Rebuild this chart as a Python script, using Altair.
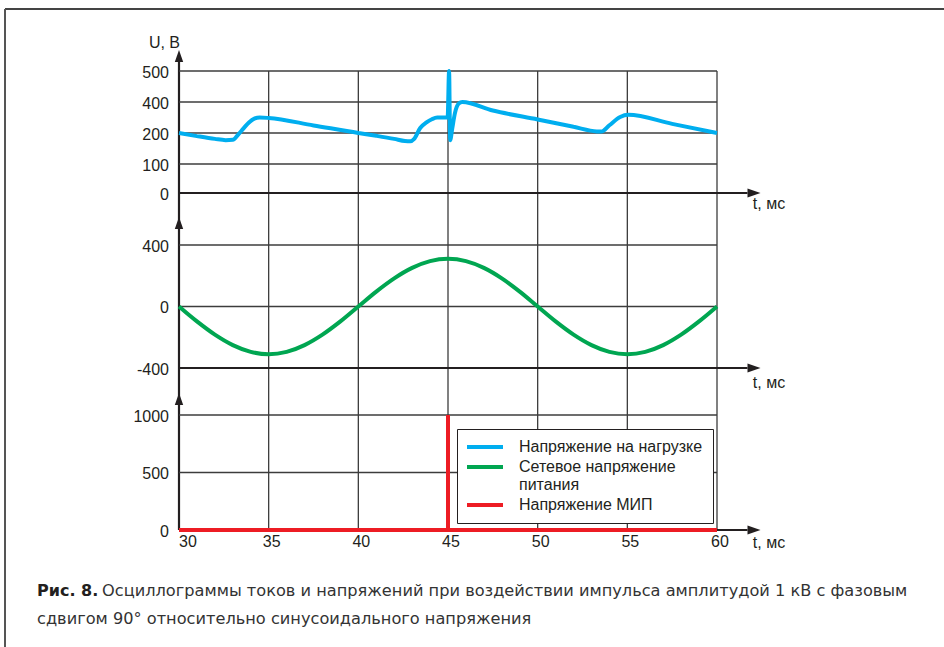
import altair as alt
import pandas as pd

# ---- time axis, ms ----
t_ticks = [30, 35, 40, 45, 50, 55, 60]

# ---- load voltage, V ----
load_t = [30.0, 31.0, 32.0, 32.6, 33.0, 33.3, 33.6, 33.9, 34.2, 34.5, 35.0, 37.5, 40.0,
          41.0, 42.0, 42.6, 42.9, 43.1, 43.45, 43.8, 44.1, 44.4, 44.98, 45.06, 45.12,
          45.24, 45.39, 45.6, 45.8, 47.5, 50.0, 52.0, 53.3, 53.55, 54.0, 54.6, 55.05,
          57.5, 60.0]
load_u = [200, 190, 181, 177, 178, 195, 230, 268, 293, 300, 297, 249, 200,
          191, 181, 174, 173, 180, 232, 268, 289, 300, 300, 500, 177,
          232, 330, 390, 400, 345, 287, 240, 210, 209, 250, 303, 317,
          259, 200]

# ---- mains voltage, V ----
mains_t = [30, 31, 32, 33, 34, 35, 36, 37, 38, 39, 40, 41, 42, 43, 44, 45,
           46, 47, 48, 49, 50, 51, 52, 53, 54, 55, 56, 57, 58, 59, 60]
mains_u = [0, -97, -183, -251, -295, -310, -295, -251, -183, -97, 0, 97, 183, 251, 295, 310,
           295, 251, 183, 97, 0, -97, -183, -251, -295, -310, -295, -251, -183, -97, 0]

# ---- pulse generator voltage, V ----
pulse_t = [30, 45, 45, 45, 60]
pulse_u = [0, 0, 1000, 0, 0]

# ---- panel tick values ----
top_grid = [100, 200, 400, 500]
top_labels = [0, 100, 200, 400, 500]
mid_grid = [0, 400]
mid_labels = [-400, 0, 400]
bot_grid = [500, 1000]
bot_labels = [0, 500, 1000]

series_names = ["Напряжение на нагрузке", "Сетевое напряжение питания", "Напряжение МИП"]
series_colors = ["#00aeef", "#00a651", "#ed1c24"]

W, H = 538, 459
PAD = {"left": 179, "top": 71, "right": 227, "bottom": 117}
INK = "#231f20"
GRID = "#3c3c3c"
FONT = "Liberation Sans"
CAPTION_FONT = "DejaVu Sans"

xs = alt.Scale(domain=[30, 60], range=[0, W], nice=False, zero=False)
# the three stacked panels, each with its own vertical scale
ys_top = alt.Scale(type="linear", domain=[0, 100, 200, 400, 500],
                   range=[122, 93, 62, 31, 0], nice=False, zero=False)
ys_mid = alt.Scale(domain=[-400, 400], range=[297, 174], nice=False, zero=False)
ys_bot = alt.Scale(domain=[0, 1000], range=[459, 344], nice=False, zero=False)

color_scale = alt.Scale(domain=series_names, range=series_colors)
legend = alt.Legend(
    orient="none", legendX=278, legendY=358, title=None,
    symbolType="M-3,0L3,0", symbolSize=144, symbolStrokeWidth=4,
    symbolOffset=10, labelOffset=26,
    labelFont=FONT, labelFontSize=16, labelColor=INK, labelLimit=400,
    padding=10, rowPadding=4,
    strokeColor=INK, fillColor="white",
    labelExpr="datum.label == 'Сетевое напряжение питания' ? "
              "['Сетевое напряжение', 'питания'] : datum.label",
)
color = alt.Color("series:N", scale=color_scale, legend=legend)

ARROW_UP = "M0,-1L0.35,0L-0.35,0Z"
ARROW_RIGHT = "M1,0L0,-0.35L0,0.35Z"
X_END = 61.7  # where the time axes end, under their arrow heads


def panel(ys, grid_vals, label_vals, axis_val, arrow_val, tlabel_dy, line_df, interp):
    grid = alt.Chart(pd.DataFrame({"v": grid_vals, "a": 30, "b": 60})).mark_rule(
        color=GRID, strokeWidth=1.3
    ).encode(
        x=alt.X("a:Q", scale=xs, axis=None), x2="b:Q",
        y=alt.Y("v:Q", scale=ys, axis=None),
    )
    axis_df = pd.DataFrame({"v": [axis_val], "a": [30], "b": [X_END]})
    axis_line = alt.Chart(axis_df).mark_rule(color=INK, strokeWidth=2.2).encode(
        x=alt.X("a:Q", scale=xs, axis=None), x2="b:Q",
        y=alt.Y("v:Q", scale=ys, axis=None),
    )
    x_arrow = alt.Chart(axis_df).mark_point(
        shape=ARROW_RIGHT, size=676, filled=True, color=INK, opacity=1
    ).encode(
        x=alt.X("b:Q", scale=xs, axis=None),
        y=alt.Y("v:Q", scale=ys, axis=None),
    )
    y_arrow = alt.Chart(pd.DataFrame({"t": [30], "v": [arrow_val]})).mark_point(
        shape=ARROW_UP, size=576, filled=True, color=INK, opacity=1
    ).encode(
        x=alt.X("t:Q", scale=xs, axis=None),
        y=alt.Y("v:Q", scale=ys, axis=None),
    )
    tick_df = pd.DataFrame({"v": label_vals, "t": 30,
                            "lbl": [str(v) for v in label_vals]})
    tick_labels = alt.Chart(tick_df).mark_text(
        align="right", baseline="middle", dx=-10, dy=1.5,
        font=FONT, fontSize=16, color=INK
    ).encode(
        x=alt.X("t:Q", scale=xs, axis=None),
        y=alt.Y("v:Q", scale=ys, axis=None),
        text="lbl:N",
    )
    t_label = alt.Chart(pd.DataFrame({"t": [62.0], "v": [axis_val]})).mark_text(
        text="t, мс", align="left", baseline="middle", dy=tlabel_dy,
        font=FONT, fontSize=16, color=INK
    ).encode(
        x=alt.X("t:Q", scale=xs, axis=None),
        y=alt.Y("v:Q", scale=ys, axis=None),
    )
    curve = alt.Chart(line_df).mark_line(
        strokeWidth=4, interpolate=interp, strokeJoin="bevel"
    ).encode(
        x=alt.X("t:Q", scale=xs, axis=None),
        y=alt.Y("u:Q", scale=ys, axis=None),
        color=color,
        order=alt.Order("i:Q"),
    )
    return alt.layer(grid, axis_line, tick_labels, t_label, curve, x_arrow, y_arrow)


load_df = pd.DataFrame({"t": load_t, "u": load_u, "series": series_names[0],
                        "i": range(len(load_t))})
mains_df = pd.DataFrame({"t": mains_t, "u": mains_u, "series": series_names[1],
                         "i": range(len(mains_t))})
pulse_df = pd.DataFrame({"t": pulse_t, "u": pulse_u, "series": series_names[2],
                         "i": range(len(pulse_t))})

top = panel(ys_top, top_grid, top_labels, 0, 529, 11, load_df, "monotone")
mid = panel(ys_mid, mid_grid, mid_labels, -400, 504, 15, mains_df, "monotone")
bot = panel(ys_bot, bot_grid, bot_labels, 0, 1087, 13, pulse_df, "linear")

# vertical grid running through all three panels
vgrid = alt.Chart(pd.DataFrame({"t": t_ticks[1:]})).mark_rule(
    color=GRID, strokeWidth=1.3
).encode(
    x=alt.X("t:Q", scale=xs, axis=None),
    y=alt.value(0), y2=alt.value(H),
)
# common vertical axis line
yaxis = alt.Chart(pd.DataFrame({"t": [30]})).mark_rule(color=INK, strokeWidth=2.2).encode(
    x=alt.X("t:Q", scale=xs, axis=None),
    y=alt.value(-9), y2=alt.value(H),
)
# time tick labels under the lowest panel
t_first = alt.Chart(pd.DataFrame({"t": t_ticks[:1]})).mark_text(
    align="left", baseline="middle", font=FONT, fontSize=16, color=INK
).encode(
    x=alt.X("t:Q", scale=xs, axis=None), y=alt.value(471), text=alt.Text("t:Q"),
)
t_rest = alt.Chart(pd.DataFrame({"t": t_ticks[1:]})).mark_text(
    align="center", baseline="middle", dx=3, font=FONT, fontSize=16, color=INK
).encode(
    x=alt.X("t:Q", scale=xs, axis=None), y=alt.value(471), text=alt.Text("t:Q"),
)

one = pd.DataFrame({"k": [0]})
u_title = alt.Chart(one).mark_text(
    text="U, В", align="right", baseline="middle", font=FONT, fontSize=16, color=INK
).encode(x=alt.value(1), y=alt.value(-28))

# figure frame
frame_top = alt.Chart(one).mark_rule(color="#444444", strokeWidth=2).encode(
    x=alt.value(-174), x2=alt.value(W + PAD["right"]), y=alt.value(-62)
)
frame_left = alt.Chart(one).mark_rule(color="#555555", strokeWidth=2).encode(
    x=alt.value(-174), y=alt.value(-62), y2=alt.value(H + PAD["bottom"])
)

# caption
cap_bold = alt.Chart(one).mark_text(
    text="Рис. 8.", align="left", baseline="middle", font=CAPTION_FONT,
    fontSize=16, fontWeight="bold", color=INK
).encode(x=alt.value(-142), y=alt.value(520))
cap_1 = alt.Chart(one).mark_text(
    text="Осциллограммы токов и напряжений при воздействии импульса амплитудой 1 кВ с фазовым",
    align="left", baseline="middle", font=CAPTION_FONT, fontSize=16.2, color="#333333"
).encode(x=alt.value(-77), y=alt.value(520))
cap_2 = alt.Chart(one).mark_text(
    text="сдвигом 90° относительно синусоидального напряжения",
    align="left", baseline="middle", font=CAPTION_FONT, fontSize=16.2, color="#333333"
).encode(x=alt.value(-142), y=alt.value(548))

chart = alt.layer(
    frame_top, frame_left, vgrid, yaxis, top, mid, bot,
    t_first, t_rest, u_title, cap_bold, cap_1, cap_2,
).resolve_scale(
    y="independent"
).properties(
    width=W, height=H, padding=PAD,
    autosize=alt.AutoSizeParams(type="none"),
    background="white",
).configure_view(stroke=None)

chart.save("out.html", embed_options={"renderer": "svg", "actions": False})
